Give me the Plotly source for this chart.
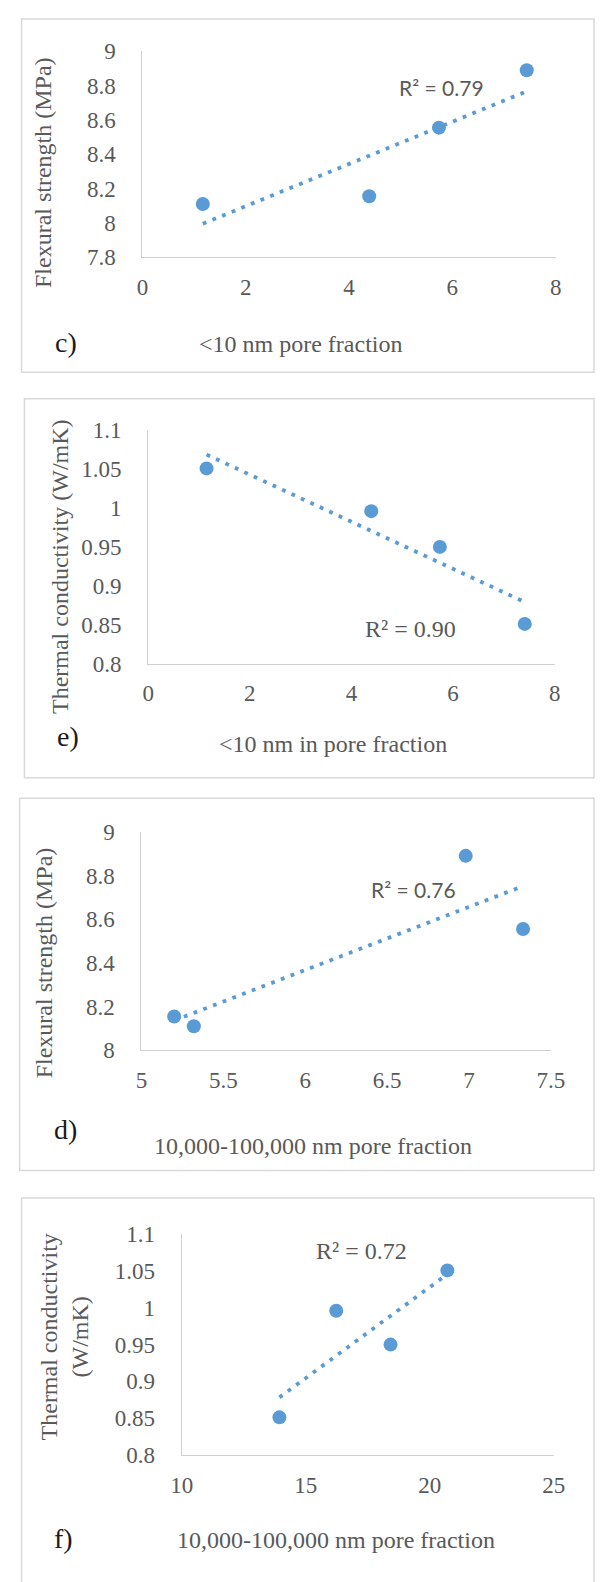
import numpy as np
import plotly.graph_objects as go

W, H = 609, 1582

# ---------------- data ----------------
# panel c: <10 nm pore fraction vs flexural strength
c_x = [1.17, 4.39, 5.74, 7.44]
c_y = [8.11, 8.155, 8.555, 8.89]
# panel e: <10 nm pore fraction vs thermal conductivity
e_x = [1.15, 4.39, 5.74, 7.41]
e_y = [1.051, 0.996, 0.950, 0.851]
# panel d: 10,000-100,000 nm pore fraction vs flexural strength
d_x = [5.32, 5.20, 7.33, 6.98]
d_y = [8.11, 8.155, 8.555, 8.89]
# panel f: 10,000-100,000 nm pore fraction vs thermal conductivity
f_x = [13.94, 16.23, 18.42, 20.71]
f_y = [0.851, 0.996, 0.950, 1.051]

c_r2 = "R² = 0.79"
e_r2 = "R² = 0.90"
d_r2 = "R² = 0.76"
f_r2 = "R² = 0.72"

c_xticks = [0, 2, 4, 6, 8]
c_yticks = [7.8, 8, 8.2, 8.4, 8.6, 8.8, 9]
c_ytext = ["7.8", "8", "8.2", "8.4", "8.6", "8.8", "9"]
e_xticks = [0, 2, 4, 6, 8]
tc_yticks = [0.8, 0.85, 0.9, 0.95, 1.0, 1.05, 1.1]
tc_ytext = ["0.8", "0.85", "0.9", "0.95", "1", "1.05", "1.1"]
d_xticks = [5, 5.5, 6, 6.5, 7, 7.5]
d_xtext = ["5", "5.5", "6", "6.5", "7", "7.5"]
d_yticks = [8, 8.2, 8.4, 8.6, 8.8, 9]
d_ytext = ["8", "8.2", "8.4", "8.6", "8.8", "9"]
f_xticks = [10, 15, 20, 25]

BLUE = "#5B9BD5"
GRAY = "#595959"
AX = "#D0D0D0"
FRAME = "#D9D9D9"
SERIF = "Liberation Serif, Times New Roman, serif"
SANS = "Lato, Open Sans, sans-serif"

def px(x):
    return x / W

def py(y):
    return 1 - y / H

fig = go.Figure()

panels = [
    ("", c_x, c_y, 137, 568, 40, 249, [0, 8], [7.8, 9], c_xticks, [str(v) for v in c_xticks], c_yticks, c_ytext),
    ("2", e_x, e_y, 143, 567, 425, 662, [0, 8], [0.8, 1.1], e_xticks, [str(v) for v in e_xticks], tc_yticks, tc_ytext),
    ("3", d_x, d_y, 136, 563, 833, 1055, [5, 7.5], [8, 9], d_xticks, d_xtext, d_yticks, d_ytext),
    ("4", f_x, f_y, 178, 566, 1242, 1466, [10, 25], [0.8, 1.1], f_xticks, [str(v) for v in f_xticks], tc_yticks, tc_ytext),
]

layout_axes = {}
for suf, xs, ys, l, r, t, b, xr, yr, xt, xtt, yt, ytt in panels:
    xa = "x" + suf
    ya = "y" + suf
    k, b0 = np.polyfit(xs, ys, 1)
    tx = [min(xs), max(xs)]
    ty = [k * v + b0 for v in tx]
    fig.add_trace(go.Scatter(x=tx, y=ty, mode="lines", xaxis=xa, yaxis=ya,
                             line=dict(color=BLUE, width=3.8, dash="3.8px,6.6px"),
                             showlegend=False))
    fig.add_trace(go.Scatter(x=xs, y=ys, mode="markers", xaxis=xa, yaxis=ya,
                             marker=dict(color=BLUE, size=14), showlegend=False))
    layout_axes["xaxis" + suf] = dict(
        domain=[px(l), px(r)], range=xr, anchor=ya, showgrid=False, zeroline=False,
        showline=True, linecolor=AX, linewidth=1.3, tickvals=xt, ticktext=xtt,
        ticks="", ticklabelstandoff=9,
        tickfont=dict(family=SERIF, size=23, color=GRAY))
    layout_axes["yaxis" + suf] = dict(
        domain=[py(b), py(t)], range=yr, anchor=xa, showgrid=False, zeroline=False,
        showline=True, linecolor=AX, linewidth=1.3, tickvals=yt, ticktext=ytt,
        ticks="", ticklabelstandoff=21,
        tickfont=dict(family=SERIF, size=23, color=GRAY))

fig.update_layout(**layout_axes)

annotations = []
def ann(text, x, y, size=24, family=SERIF, color=GRAY, angle=0, xanchor="center"):
    annotations.append(dict(text=text, x=px(x), y=py(y), xref="paper", yref="paper",
                            showarrow=False, textangle=angle, xanchor=xanchor, yanchor="middle",
                            font=dict(family=family, size=size, color=color)))

# y titles
ann("Flexural strength (MPa)", 34, 163, angle=-90)
ann("Thermal conductivity (W/mK)", 51, 563, angle=-90)
ann("Flexural strength (MPa)", 34, 966, angle=-90)
ann("Thermal conductivity<br>(W/mK)", 56, 1346, angle=-90)
# x titles
ann("&lt;10 nm pore fraction", 302, 337)
ann("&lt;10 nm in pore fraction", 336, 744)
ann("10,000-100,000 nm pore fraction", 315, 1152)
ann("10,000-100,000 nm pore fraction", 339, 1553)
# panel letters
ann("c)", 57, 336, size=28, color="#1a1a1a")
ann("e)", 59, 736, size=28, color="#1a1a1a")
ann("d)", 57, 1135, size=28, color="#1a1a1a")
ann("f)", 55, 1551, size=28, color="#1a1a1a")
# R^2 labels
ann(c_r2, 449, 77, size=21, family=SANS)
ann(d_r2, 420, 892, size=21, family=SANS)
ann(e_r2, 417, 627, size=24)
ann(f_r2, 365, 1259, size=24)

shapes = []
for l, t, r, b in [(11, 7, 608, 366), (14, 393, 608, 778), (9, 799, 608, 1177), (11, 1205, 608, 1600)]:
    shapes.append(dict(type="rect", xref="paper", yref="paper", x0=px(l), x1=px(r), y0=py(b), y1=py(t),
                       line=dict(color=FRAME, width=1.5), fillcolor="rgba(0,0,0,0)", layer="below"))

fig.update_layout(width=W, height=H, margin=dict(l=0, r=0, t=0, b=0),
                  paper_bgcolor="white", plot_bgcolor="white",
                  annotations=annotations, shapes=shapes, showlegend=False)

fig.write_html("out.html")
